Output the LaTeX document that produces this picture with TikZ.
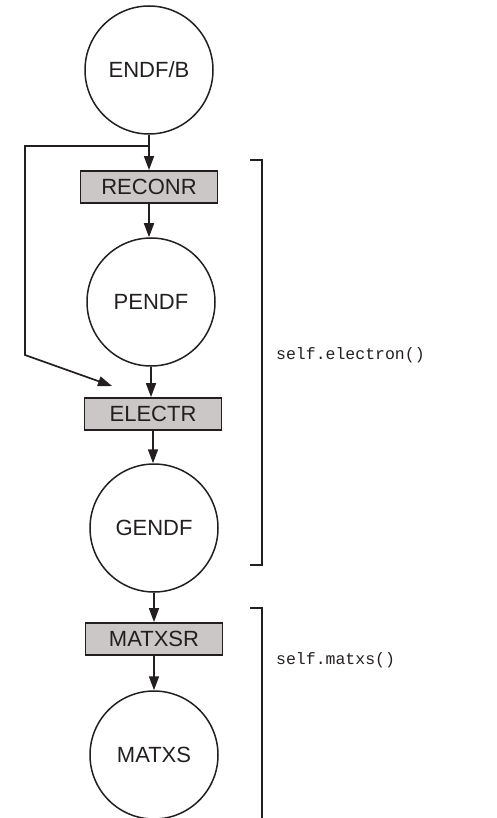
\documentclass[tikz,border=0pt]{standalone}
\usepackage{fontspec}
\setmainfont{Liberation Sans}
\setmonofont{Liberation Mono}
\usetikzlibrary{arrows.meta}
\definecolor{inkc}{RGB}{35,31,32}
\definecolor{modfill}{RGB}{203,199,199}
\begin{document}
\begin{tikzpicture}[x=1pt,y=-1pt,
  line width=1.7pt,
  every node/.style={font=\fontsize{22}{25}\selectfont, text=inkc},
  datafile/.style={circle, draw=inkc, line width=1.5pt, minimum size=128pt, inner sep=0pt},
  module/.style={rectangle, draw=inkc, fill=modfill, line width=1.8pt, minimum width=137pt, minimum height=32pt, inner sep=0pt},
  flow/.style={draw=inkc, -{Triangle[length=14pt,width=10pt]}},
  codelabel/.style={anchor=west, font=\ttfamily\fontsize{16.5}{19}\selectfont},
  bracket/.style={draw=inkc, line width=1.5pt}
]
\useasboundingbox (0,0) rectangle (497,818);

% data files and processing modules
\node[datafile] (endf)   at (149,70)    {ENDF/B};
\node[module]   (reconr) at (149,187)   {RECONR};
\node[datafile] (pendf)  at (151,302)   {PENDF};
\node[module]   (electr) at (153,414)   {ELECTR};
\node[datafile] (gendf)  at (154,528)   {GENDF};
\node[module]   (matxsr) at (154,639)   {MATXSR};
\node[datafile] (matxs)  at (154,755)   {MATXS};

% bypass from ENDF/B straight to ELECTR
\coordinate (split) at (149,146);
\coordinate (bendtop) at (25,146);
\coordinate (bendlow) at (25,355);
\coordinate (bypassend) at (112,386);

% main chain
\draw[flow] (endf) -- (endf |- reconr.north);
\draw[flow] (reconr) -- (reconr |- pendf.north);
\draw[flow] (pendf) -- (pendf |- electr.north);
\draw[flow] (electr) -- (electr |- gendf.north);
\draw[flow] (gendf) -- (gendf |- matxsr.north);
\draw[flow] (matxsr) -- (matxsr |- matxs.north);

\draw[flow, line join=miter] (split) -- (bendtop) -- (bendlow) -- (bypassend);

% method brackets
\coordinate (b1top) at (250,160);
\coordinate (b1bot) at (250,565);
\coordinate (b2top) at (250,608);
\draw[bracket] (b1top) -- ++(12,0) |- (b1bot);
\draw[bracket] (b2top) -- ++(12,0) -- ++(0,222);

\node[codelabel] (electron) at (272,355) {self.electron()};
\node[codelabel] (matxscall) at (272,660) {self.matxs()};
\end{tikzpicture}
\end{document}
